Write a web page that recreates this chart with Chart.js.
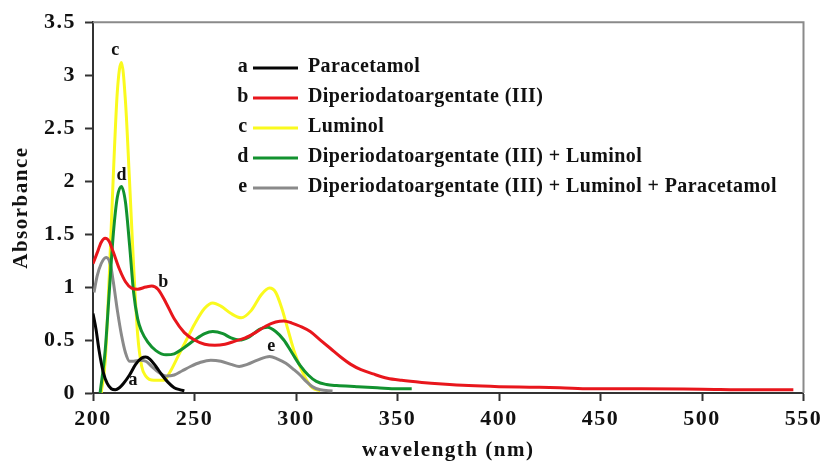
<!DOCTYPE html>
<html>
<head>
<meta charset="utf-8">
<script src="https://cdn.jsdelivr.net/npm/chart.js@4.4.1/dist/chart.umd.min.js"></script>
<style>
  html, body { margin: 0; padding: 0; background: #fff; }
  #wrap { width: 825px; height: 463px; }
</style>
</head>
<body>
<div id="wrap"><canvas id="spectra"></canvas></div>
<script>
// wavelength (nm) / absorbance
const wlA = [200, 201.5, 203, 205, 207, 209, 211, 213, 215, 218, 221, 224, 226, 228, 231, 234, 237, 240, 243, 245];
const absA = [0.75, 0.6, 0.4, 0.2, 0.09, 0.04, 0.03, 0.05, 0.09, 0.17, 0.27, 0.33, 0.34, 0.32, 0.25, 0.17, 0.1, 0.05, 0.03, 0.02];

const wlB = [200, 202, 204, 206, 208, 210, 213, 216, 219, 222, 226, 229, 232, 236, 240, 245, 250, 255, 260, 265, 270, 275, 280, 285, 290, 294, 298, 302, 307, 312, 317, 322, 327, 332, 338, 345, 352, 362, 372, 385, 400, 415, 430, 445, 470, 500, 525, 545];
const absB = [1.22, 1.32, 1.42, 1.46, 1.43, 1.33, 1.17, 1.05, 0.99, 0.98, 1.0, 1.01, 0.98, 0.85, 0.7, 0.57, 0.5, 0.46, 0.45, 0.46, 0.49, 0.52, 0.57, 0.63, 0.67, 0.68, 0.66, 0.63, 0.58, 0.5, 0.42, 0.34, 0.27, 0.22, 0.18, 0.14, 0.12, 0.1, 0.085, 0.07, 0.06, 0.055, 0.05, 0.04, 0.04, 0.035, 0.03, 0.03];

const wlC = [204, 206, 208, 210, 212, 214, 216, 218, 220, 222, 224, 226, 230, 235, 238, 242, 246, 250, 255, 259, 263, 268, 273, 278, 283, 287, 290, 293, 296, 299, 302, 305, 308, 312];
const absC = [0, 0.3, 1.1, 2.05, 2.85, 3.12, 2.75, 2.0, 1.2, 0.55, 0.25, 0.16, 0.12, 0.12, 0.2, 0.35, 0.5, 0.65, 0.8, 0.85, 0.82, 0.75, 0.71, 0.78, 0.93, 0.99, 0.95, 0.8, 0.6, 0.4, 0.25, 0.13, 0.05, 0.02];

const wlD = [203.5, 206, 208, 210, 212, 214, 216, 218, 220, 222, 224, 227, 231, 236, 240, 245, 250, 255, 259, 264, 268, 272, 277, 282, 286, 290, 294, 298, 302, 306, 310, 315, 320, 330, 340, 350, 357];
const absD = [0, 0.4, 0.95, 1.5, 1.85, 1.95, 1.8, 1.4, 0.95, 0.7, 0.58, 0.48, 0.4, 0.36, 0.37, 0.43, 0.5, 0.56, 0.58, 0.56, 0.52, 0.5, 0.53, 0.6, 0.62, 0.58, 0.5, 0.38, 0.26, 0.17, 0.11, 0.08, 0.07, 0.06, 0.05, 0.04, 0.04];

const wlE = [200.5, 202, 204, 206.5, 208.5, 210, 212, 214, 216, 218, 220, 223, 226, 229, 232, 236, 240, 244, 248, 253, 258, 263, 268, 272, 276, 281, 287, 291, 295, 299, 302, 305, 308, 312, 318];
const absE = [0.95, 1.1, 1.22, 1.28, 1.22, 1.05, 0.78, 0.55, 0.38, 0.3, 0.3, 0.31, 0.3, 0.25, 0.2, 0.16, 0.17, 0.21, 0.25, 0.29, 0.31, 0.3, 0.27, 0.25, 0.27, 0.31, 0.345, 0.32, 0.28, 0.22, 0.17, 0.11, 0.06, 0.03, 0.02];

const letters = ['a', 'b', 'c', 'd', 'e'];
const names = ['Paracetamol', 'Diperiodatoargentate (III)', 'Luminol', 'Diperiodatoargentate (III) + Luminol', 'Diperiodatoargentate (III) + Luminol + Paracetamol'];
const colors = ['#050505', '#e8161c', '#fafa1e', '#12922f', '#8a8a8a'];
// where the curve letters sit (wavelength, absorbance)
const tagWl = [219.7, 234.6, 211, 214.1, 287.8];
const tagAbs = [0.12, 1.04, 3.23, 2.05, 0.44];

const xTicks = [200, 250, 300, 350, 400, 450, 500, 550];
const yTicks = [0, 0.5, 1, 1.5, 2, 2.5, 3, 3.5];

const serif = '"Liberation Serif", "Times New Roman", serif';

function pts(wl, ab) {
  return wl.map((w, i) => ({ x: w, y: ab[i] }));
}
const series = [pts(wlA, absA), pts(wlB, absB), pts(wlC, absC), pts(wlD, absD), pts(wlE, absE)];
const drawOrder = [1, 2, 5, 3, 4];

// the original text is a bit stretched sideways
const spacing = {
  id: 'spacing',
  beforeInit(chart) { chart.ctx.letterSpacing = '1.5px'; },
  beforeDraw(chart) { chart.ctx.letterSpacing = '1.5px'; }
};

// frame, curve letters and the legend
const extras = {
  id: 'extras',
  afterDatasetsDraw(chart) {
    const { ctx, chartArea: a, scales } = chart;
    ctx.save();
    ctx.strokeStyle = '#8a8a8a';
    ctx.lineWidth = 2;
    ctx.beginPath();
    ctx.moveTo(a.left, a.top);
    ctx.lineTo(a.right, a.top);
    ctx.lineTo(a.right, a.bottom);
    ctx.stroke();

    ctx.letterSpacing = '0px';
    ctx.fillStyle = '#111';
    ctx.font = 'bold 18px ' + serif;
    ctx.textAlign = 'center';
    ctx.textBaseline = 'middle';
    letters.forEach((l, i) => {
      ctx.fillText(l, scales.x.getPixelForValue(tagWl[i]), scales.y.getPixelForValue(tagAbs[i]));
    });

    ctx.font = 'bold 20px ' + serif;
    ctx.letterSpacing = '0.4px';
    const lx = 243, rowY = 67, gap = 30;
    names.forEach((n, i) => {
      const y = rowY + i * gap;
      ctx.fillStyle = '#111';
      ctx.textAlign = 'center';
      ctx.fillText(letters[i], lx, y);
      ctx.strokeStyle = colors[i];
      ctx.lineWidth = 3;
      ctx.beginPath();
      ctx.moveTo(lx + 10, y + 1);
      ctx.lineTo(lx + 55, y + 1);
      ctx.stroke();
      ctx.textAlign = 'left';
      ctx.fillText(n, lx + 65, y);
    });
    ctx.restore();
  }
};

new Chart(document.getElementById('spectra'), {
  type: 'line',
  data: {
    datasets: series.map((d, i) => ({
      label: names[i],
      data: d,
      borderColor: colors[i],
      backgroundColor: colors[i],
      borderWidth: 3,
      pointRadius: 0,
      cubicInterpolationMode: 'monotone',
      order: drawOrder[i],
      fill: false
    }))
  },
  plugins: [spacing, extras],
  options: {
    responsive: true,
    maintainAspectRatio: false,
    animation: false,
    layout: { padding: { top: 22, right: 20, left: 0, bottom: 0 } },
    plugins: {
      legend: { display: false },
      tooltip: { enabled: false }
    },
    scales: {
      x: {
        type: 'linear',
        min: 200,
        max: 550,
        afterBuildTicks: s => { s.ticks = xTicks.map(v => ({ value: v })); },
        afterFit: s => { s.height = 70; },
        grid: { drawOnChartArea: false, drawTicks: true, tickLength: 8, color: '#333', tickWidth: 2 },
        border: { color: '#333', width: 2 },
        ticks: { color: '#111', font: { family: serif, size: 22, weight: 'bold' }, padding: 5, maxRotation: 0 },
        title: { display: true, text: 'wavelength (nm)', color: '#111', font: { family: serif, size: 21, weight: 'bold' }, padding: { top: 0, bottom: 0 } }
      },
      y: {
        min: 0,
        max: 3.5,
        afterBuildTicks: s => { s.ticks = yTicks.map(v => ({ value: v })); },
        afterFit: s => { s.width = 93; },
        grid: { drawOnChartArea: false, drawTicks: true, tickLength: 8, color: '#333', tickWidth: 2 },
        border: { color: '#333', width: 2 },
        ticks: { color: '#111', font: { family: serif, size: 22, weight: 'bold' }, padding: 9, callback: v => String(v) },
        title: { display: true, text: 'Absorbance', color: '#111', font: { family: serif, size: 21, weight: 'bold' }, padding: { top: 9, bottom: 0 } }
      }
    }
  }
});
</script>
</body>
</html>
